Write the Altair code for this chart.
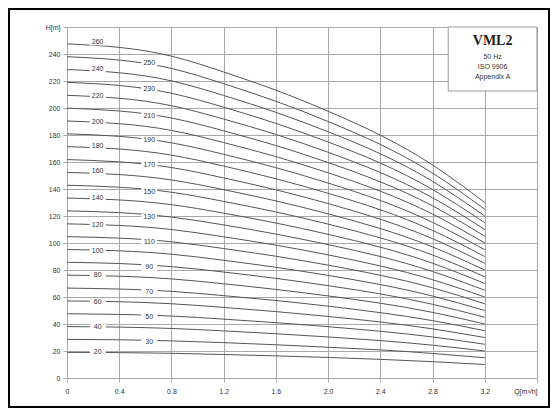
import altair as alt
import pandas as pd

# Flow points (m3/h) where curve heads were read
q = [0.0, 0.4, 0.8, 1.2, 1.6, 2.0, 2.4, 2.8, 3.2]

# Head (m) of each curve at the flow points above
h260 = [247.5, 244.9, 238.4, 226.7, 213.2, 197.6, 179.9, 157.8, 130.0]
h250 = [238.0, 235.5, 229.3, 218.0, 205.0, 190.0, 173.0, 151.8, 125.0]
h240 = [228.5, 226.1, 220.1, 209.3, 196.8, 182.4, 166.1, 145.7, 120.0]
h230 = [219.0, 216.7, 210.9, 200.6, 188.6, 174.8, 159.2, 139.6, 115.0]
h220 = [209.4, 207.2, 201.7, 191.8, 180.4, 167.2, 152.2, 133.5, 110.0]
h210 = [199.9, 197.8, 192.6, 183.1, 172.2, 159.6, 145.3, 127.5, 105.0]
h200 = [190.4, 188.4, 183.4, 174.4, 164.0, 152.0, 138.4, 121.4, 100.0]
h190 = [180.9, 179.0, 174.2, 165.7, 155.8, 144.4, 131.5, 115.3, 95.0]
h180 = [171.4, 169.6, 165.1, 157.0, 147.6, 136.8, 124.6, 109.3, 90.0]
h170 = [161.8, 160.1, 155.9, 148.2, 139.4, 129.2, 117.6, 103.2, 85.0]
h160 = [152.3, 150.7, 146.7, 139.5, 131.2, 121.6, 110.7, 97.1, 80.0]
h150 = [142.8, 141.3, 137.6, 130.8, 123.0, 114.0, 103.8, 91.1, 75.0]
h140 = [133.3, 131.9, 128.4, 122.1, 114.8, 106.4, 96.9, 85.0, 70.0]
h130 = [123.8, 122.5, 119.2, 113.4, 106.6, 98.8, 90.0, 78.9, 65.0]
h120 = [114.2, 113.0, 110.0, 104.6, 98.4, 91.2, 83.0, 72.8, 60.0]
h110 = [104.7, 103.6, 100.9, 95.9, 90.2, 83.6, 76.1, 66.8, 55.0]
h100 = [95.2, 94.2, 91.7, 87.2, 82.0, 76.0, 69.2, 60.7, 50.0]
h90 = [85.7, 84.8, 82.5, 78.5, 73.8, 68.4, 62.3, 54.6, 45.0]
h80 = [76.2, 75.4, 73.4, 69.8, 65.6, 60.8, 55.4, 48.6, 40.0]
h70 = [66.6, 65.9, 64.2, 61.0, 57.4, 53.2, 48.4, 42.5, 35.0]
h60 = [57.1, 56.5, 55.0, 52.3, 49.2, 45.6, 41.5, 36.4, 30.0]
h50 = [47.6, 47.1, 45.9, 43.6, 41.0, 38.0, 34.6, 30.4, 25.0]
h40 = [38.1, 37.7, 36.7, 34.9, 32.8, 30.4, 27.7, 24.3, 20.0]
h30 = [28.6, 28.3, 27.5, 26.2, 24.6, 22.8, 20.8, 18.2, 15.0]
h20 = [19.0, 18.8, 18.3, 17.4, 16.4, 15.2, 13.8, 12.1, 10.0]

curve_names = [260, 250, 240, 230, 220, 210, 200, 190, 180, 170, 160, 150, 140,
               130, 120, 110, 100, 90, 80, 70, 60, 50, 40, 30, 20]
curve_heads = [h260, h250, h240, h230, h220, h210, h200, h190, h180, h170, h160,
               h150, h140, h130, h120, h110, h100, h90, h80, h70, h60, h50, h40,
               h30, h20]

# Curve labels: left column and right column
left_names = ["260", "240", "220", "200", "180", "160", "140", "120", "100", "80", "60", "40", "20"]
left_label_h = [249, 229, 209, 190, 172, 153, 133, 113, 94, 76, 56, 38, 19]
left_label_q = 0.235
right_names = ["250", "230", "210", "190", "170", "150", "130", "110", "90", "70", "50", "30"]
right_label_h = [233, 214, 194, 176, 158, 138, 119, 101, 82, 64, 45, 27]
right_label_q = 0.63

# Axis ticks
x_ticks = [0, 0.4, 0.8, 1.2, 1.6, 2.0, 2.4, 2.8, 3.2, 3.6]
y_ticks = [0, 20, 40, 60, 80, 100, 120, 140, 160, 180, 200, 220, 240, 260]

# Info box
box_q = [2.92, 3.6]
box_h = [212.6, 260]
info_lines = ["VML2", "50 Hz", "ISO 9906", "Appendix A"]
info_h = [250, 237.8, 230.4, 223.0]
info_q = 3.26

rows = []
for name, hs in zip(curve_names, curve_heads):
    for qq, hh in zip(q, hs):
        rows.append({"curve": name, "Q": qq, "H": hh})
curves_df = pd.DataFrame(rows)

labels_df = pd.DataFrame(
    [{"Q": left_label_q, "H": h, "t": n} for n, h in zip(left_names, left_label_h)]
    + [{"Q": right_label_q, "H": h, "t": n} for n, h in zip(right_names, right_label_h)]
)
box_df = pd.DataFrame([{"q1": box_q[0], "q2": box_q[1], "h1": box_h[0], "h2": box_h[1]}])
info_df = pd.DataFrame([{"Q": info_q, "H": h, "t": t, "i": i}
                        for i, (t, h) in enumerate(zip(info_lines, info_h))])

FONT = "Liberation Sans"
GRID = "#a8a8a8"

xscale = alt.Scale(domain=[0, 3.6], nice=False, zero=False)
yscale = alt.Scale(domain=[0, 260], nice=False, zero=False)

x_axis = alt.Axis(
    values=x_ticks, grid=True, gridColor=GRID, gridWidth=1, domain=False,
    ticks=True, tickColor=GRID, tickSize=4, labelFontSize=7, labelColor="#333",
    labelFont=FONT, labelPadding=5, title=None, labelOverlap=False, labelFlush=False,
    labelAlign={"condition": {"test": "datum.value > 3.5", "value": "right"}, "value": "center"},
    labelExpr="datum.value == 0 ? '0' : (datum.value > 3.5 ? 'Q[m³/h]' : format(datum.value, '.1f'))",
)
y_axis = alt.Axis(
    values=y_ticks, grid=True, gridColor=GRID, gridWidth=1, domain=False,
    ticks=True, tickColor=GRID, tickSize=4, labelFontSize=7, labelColor="#333",
    labelFont=FONT, labelPadding=3, title=None, labelOverlap=False, labelFlush=False,
    labelExpr="datum.value >= 260 ? 'H[m]' : format(datum.value, 'd')",
)

X = alt.X("Q:Q", scale=xscale, axis=x_axis)
Y = alt.Y("H:Q", scale=yscale, axis=y_axis)

lines = alt.Chart(curves_df).mark_line(
    color="#555555", strokeWidth=1, interpolate="natural"
).encode(x=X, y=Y, detail="curve:N")

label_bg = alt.Chart(labels_df).mark_rect(fill="white", width=16, height=7).encode(x=X, y=Y)
label_txt = alt.Chart(labels_df).mark_text(
    font=FONT, fontSize=7, color="#333", align="center", baseline="middle"
).encode(x=X, y=Y, text="t:N")

box = alt.Chart(box_df).mark_rect(fill="white", stroke="#999", strokeWidth=1).encode(
    x=alt.X("q1:Q", scale=xscale, axis=x_axis), x2="q2:Q",
    y=alt.Y("h1:Q", scale=yscale, axis=y_axis), y2="h2:Q",
)
info_title = alt.Chart(info_df[info_df["i"] == 0]).mark_text(
    font="Liberation Serif", fontSize=14, fontWeight="bold", color="#222",
    align="center", baseline="middle"
).encode(x=X, y=Y, text="t:N")
info_sub = alt.Chart(info_df[info_df["i"] > 0]).mark_text(
    font=FONT, fontSize=7, color="#333", align="center", baseline="middle"
).encode(x=X, y=Y, text="t:N")

frame = alt.Chart(box_df).mark_rect(
    fillOpacity=0, stroke="black", strokeWidth=2
).encode(
    x=alt.value(-58), x2=alt.value(482), y=alt.value(-18), y2=alt.value(380)
)

chart = alt.layer(
    lines, label_bg, label_txt, box, info_title, info_sub, frame
).properties(
    width=470, height=351,
    padding={"left": 59, "top": 19, "right": 13, "bottom": 30},
    autosize=alt.AutoSizeParams(type="none"),
    background="white",
).configure_view(strokeWidth=0)

chart.save("out.html", embed_options={"renderer": "svg", "actions": False})
